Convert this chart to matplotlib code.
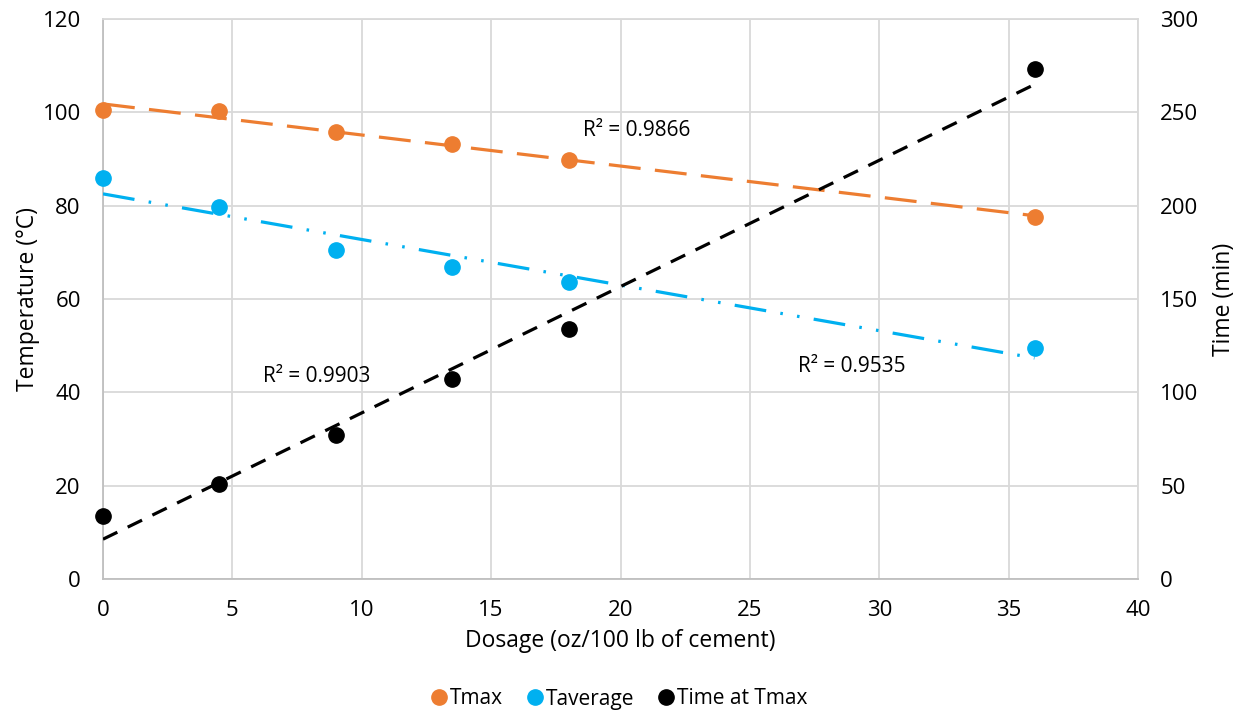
import numpy as np
import matplotlib
matplotlib.use("Agg")
import matplotlib.pyplot as plt
from matplotlib.lines import Line2D

plt.rcParams['font.family'] = ['Open Sans', 'DejaVu Sans']

dosage = [0, 4.5, 9, 13.5, 18, 36]
tmax = [100.4, 100.3, 95.7, 93.2, 89.7, 77.6]
taverage = [85.9, 79.7, 70.4, 66.8, 63.6, 49.6]
time_at_tmax = [34, 51, 77, 107, 134, 273]

r2_labels = ["R\u00b2 = 0.9866", "R\u00b2 = 0.9535", "R\u00b2 = 0.9903"]
series_names = ["Tmax", "Taverage", "Time at Tmax"]
colors = ["#ED7D31", "#00B0F0", "#000000"]

x_ticks = [0, 5, 10, 15, 20, 25, 30, 35, 40]
left_ticks = [0, 20, 40, 60, 80, 100, 120]
right_ticks = [0, 50, 100, 150, 200, 250, 300]

fig = plt.figure(figsize=(12.45, 7.14), dpi=100)
ax = fig.add_axes([103/1245, 1 - 579/714, (1138-103)/1245, (579-19)/714])
ax2 = ax.twinx()

grid_c = "#D9D9D9"
for a in (ax, ax2):
    for s in a.spines.values():
        s.set_visible(False)
ax.set_xlim(0, 40)
ax.set_ylim(0, 120)
ax2.set_ylim(0, 300)
ax.set_xticks(x_ticks)
ax.set_yticks(left_ticks)
ax2.set_yticks(right_ticks)
ax.grid(True, color=grid_c, linewidth=1.3)
ax.set_axisbelow(True)
for side, col in (('left', "#BFBFBF"), ('bottom', "#BFBFBF"), ('right', grid_c), ('top', grid_c)):
    ax.spines[side].set_visible(True)
    ax.spines[side].set_color(col)
    ax.spines[side].set_linewidth(1.3)

fs_tick = 16
fs_label = 16.5
fs_small = 15
ax.tick_params(axis='both', length=0, labelsize=fs_tick, colors="#000000")
ax.tick_params(axis='x', pad=15)
ax.tick_params(axis='y', pad=16)
ax2.tick_params(axis='y', length=0, labelsize=fs_tick, pad=16)
for lbl in ax2.get_yticklabels():
    lbl.set_horizontalalignment('left')

ax.set_xlabel("Dosage (oz/100 lb of cement)", fontsize=fs_label, labelpad=6)
ax.set_ylabel("Temperature (\u00b0C)", fontsize=fs_label, labelpad=2)
ax2.set_ylabel("Time (min)", fontsize=fs_label, labelpad=10)

xs = np.array(dosage, dtype=float)
xfit = np.array([min(dosage), max(dosage)], dtype=float)
lw = 2.3
styles = [
    (0, (10, 4.5)),
    (0, (10, 4.5, 0.8, 4.5, 0.8, 4.5)),
    (0, (5, 3.6)),
]
data = [(ax, tmax), (ax, taverage), (ax2, time_at_tmax)]
for (a, ys), c, ls in zip(data, colors, styles):
    p = np.polyfit(xs, np.array(ys, dtype=float), 1)
    a.plot(xfit, np.polyval(p, xfit), color=c, linewidth=lw, linestyle=ls, zorder=3)
for (a, ys), c in zip(data, colors):
    a.plot(dosage, ys, 'o', color=c, markersize=11, zorder=4, clip_on=False)

ax.text(20.64, 96.2, r2_labels[0], fontsize=fs_small, ha='center', va='center')
ax.text(28.95, 45.5, r2_labels[1], fontsize=fs_small, ha='center', va='center')
ax.text(8.27, 43.4, r2_labels[2], fontsize=fs_small, ha='center', va='center')

handles = [Line2D([], [], marker='o', linestyle='none', color=c, markersize=11) for c in colors]
fig.legend(handles, series_names, loc='center', bbox_to_anchor=(618/1245, 1 - 699/714),
           ncol=3, frameon=False, fontsize=fs_small, handletextpad=0.05, columnspacing=1.0,
           handlelength=1.0)

fig.savefig("out.png", dpi=100)
